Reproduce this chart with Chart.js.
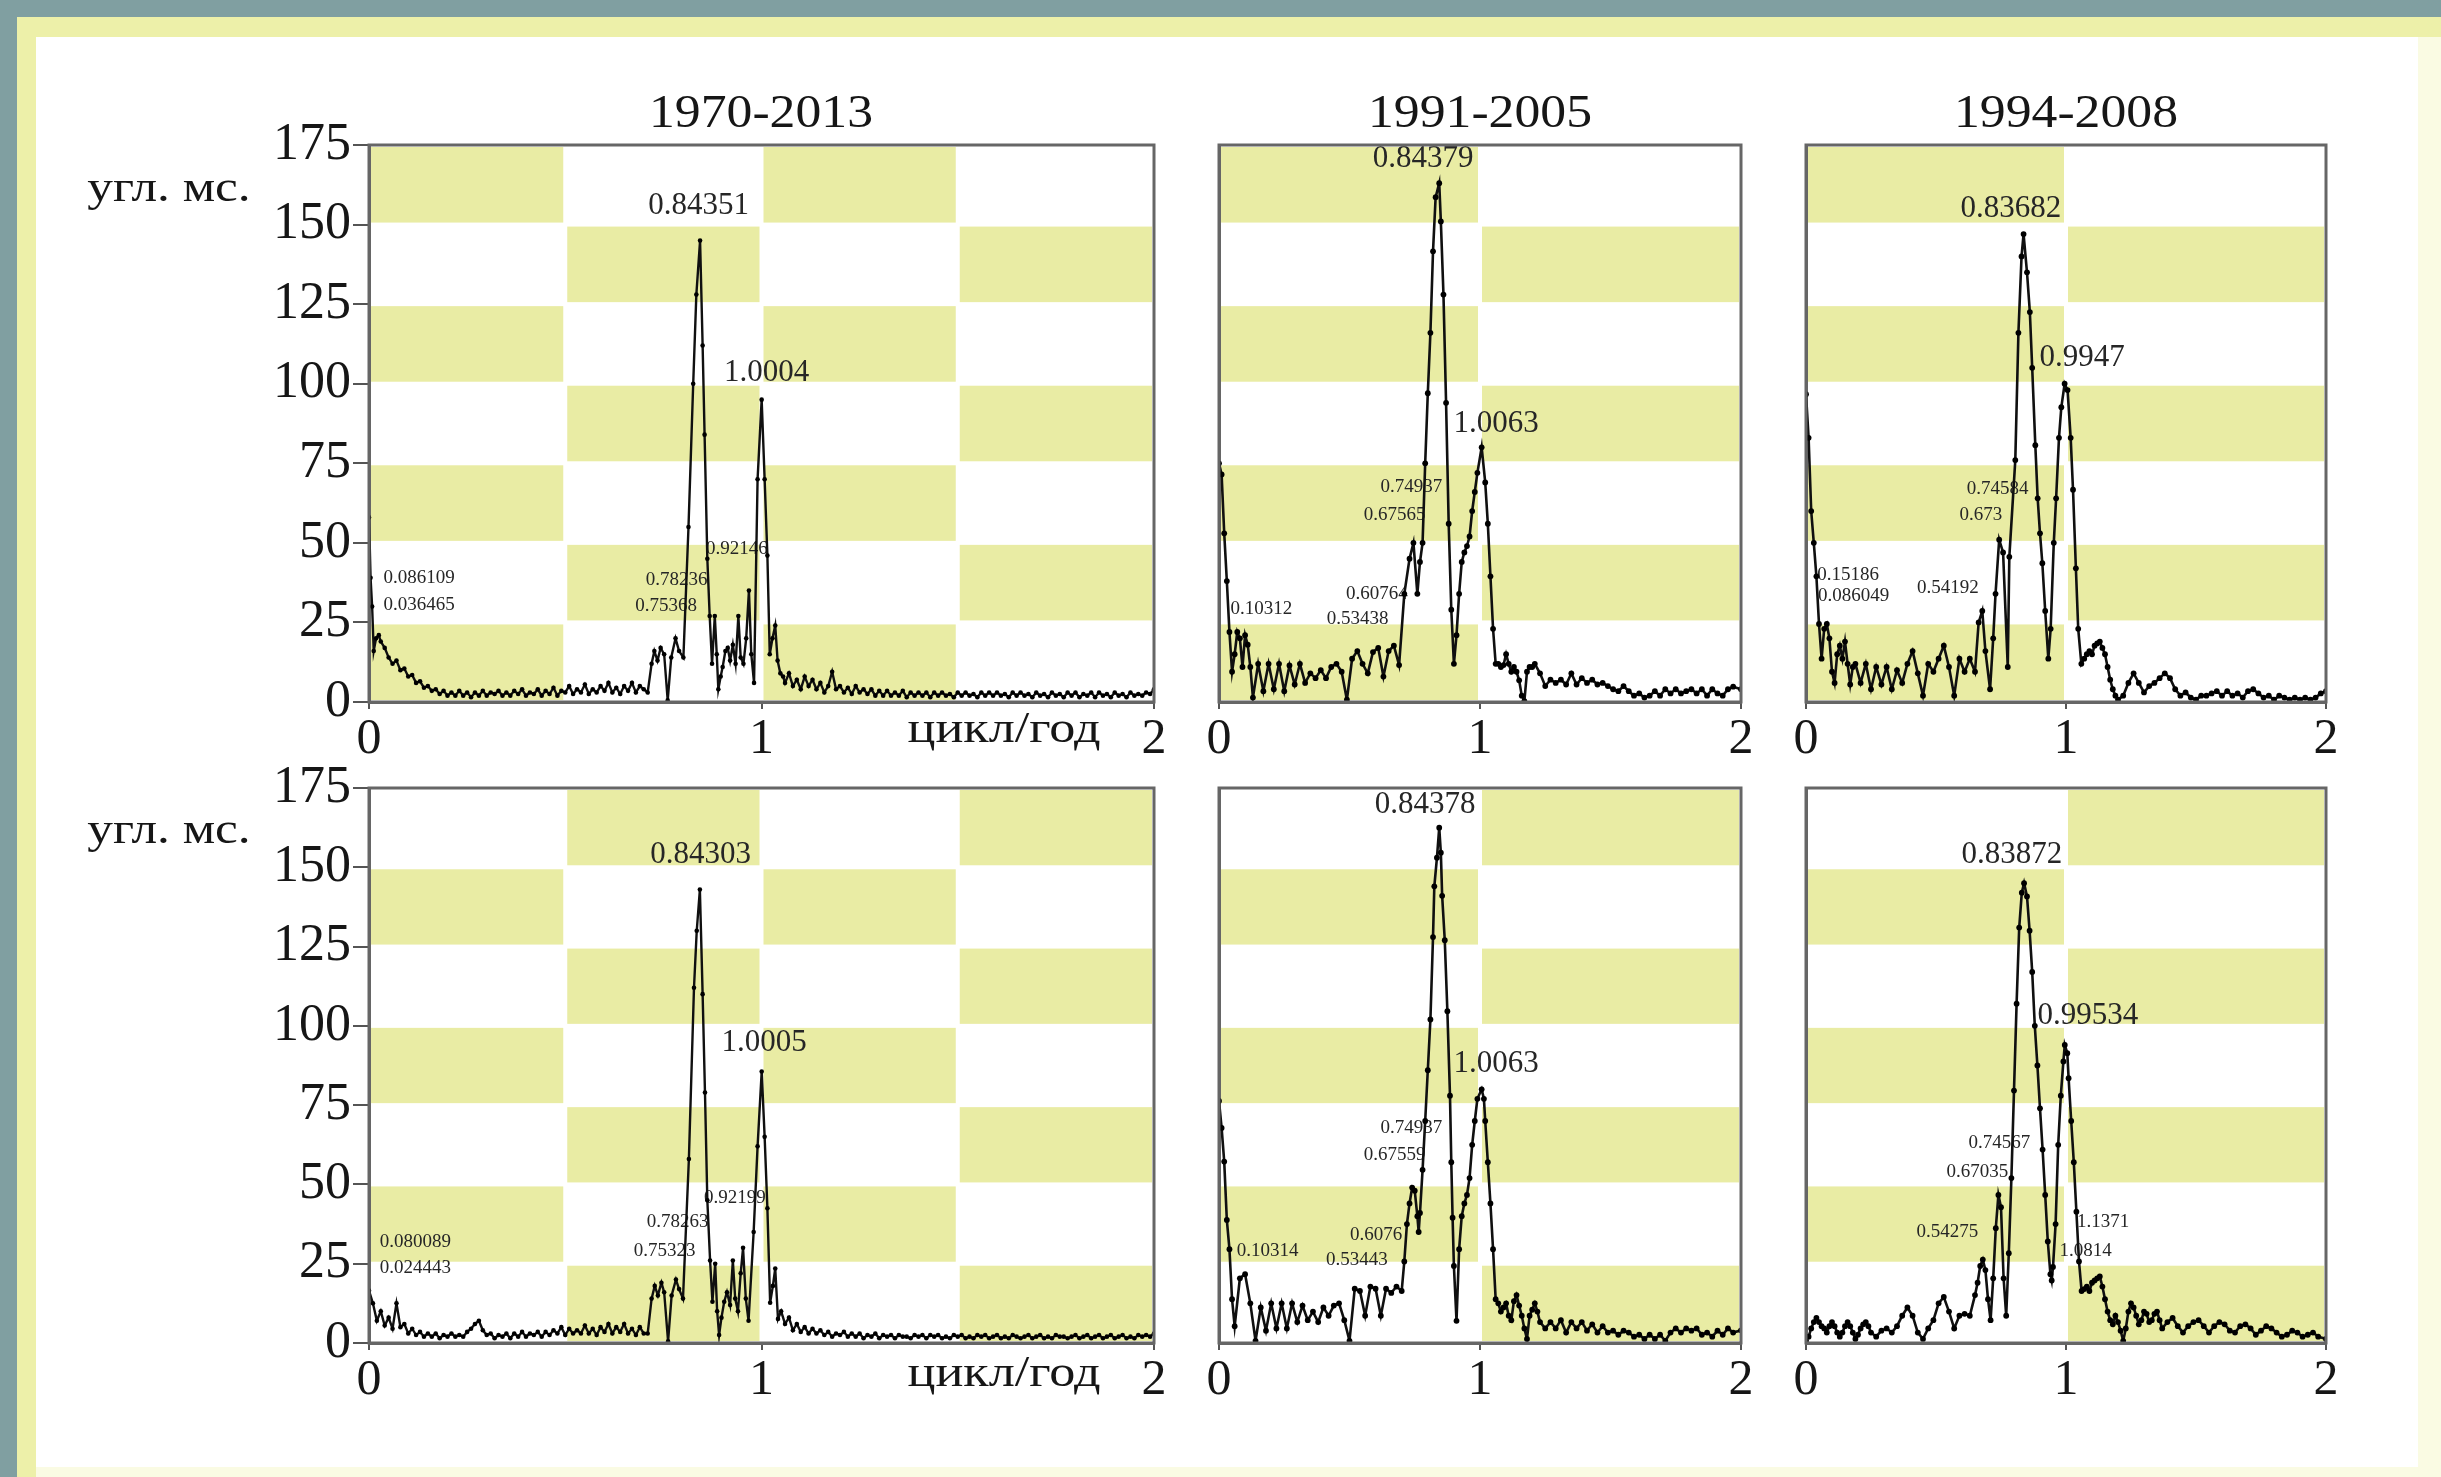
<!DOCTYPE html>
<html><head><meta charset="utf-8">
<script src="https://cdn.jsdelivr.net/npm/chart.js@4.4.1/dist/chart.umd.min.js"></script>
<style>
html,body{margin:0;padding:0}
body{width:2441px;height:1477px;background:#809fa1;overflow:hidden;position:relative;font-family:"Liberation Serif","Times New Roman",serif}
#frame{position:absolute;left:17px;top:17px;right:0;bottom:0;background:#edf0a9}
#panel{position:absolute;left:36px;top:37px;right:0;bottom:0;background:#fff}
#rs{position:absolute;left:2418px;top:37px;right:0;bottom:0;background:#fafbe3}
#bs{position:absolute;left:36px;top:1467px;right:0;bottom:0;background:#fafbe3}
.t{position:absolute;color:#161616;white-space:nowrap;line-height:1}
canvas{position:absolute}
</style></head>
<body>
<div id="frame"></div><div id="panel"></div><div id="rs"></div><div id="bs"></div>
<script>
// ---------- data ----------
const periodTitles = ["1970-2013","1991-2005","1994-2008"];
const yUnit = "угл. мс.";
const xUnit = "цикл/год";
const yTickValues = [0,25,50,75,100,125,150,175];
const xTickLabels = ["0","1","2"];

const freqTL = [0,0.004,0.008,0.012,0.018,0.025,0.03,0.04,0.05,0.06,0.07,0.08,0.09,0.10,0.11,0.12,0.13,0.14,0.15,0.16,0.17,0.18,0.19,
0.20,0.21,0.22,0.23,0.24,0.25,0.26,0.27,0.28,0.29,
0.30,0.31,0.32,0.33,0.34,0.35,0.36,0.37,0.38,0.39,
0.40,0.41,0.42,0.43,0.44,0.45,0.46,0.47,0.48,0.49,
0.50,0.51,0.52,0.53,0.54,0.55,0.56,0.57,0.58,0.59,
0.60,0.61,0.62,0.63,0.64,0.65,0.66,0.67,0.68,0.69,
0.70,
0.71,0.72,0.727,0.735,0.743,0.752,0.761,0.77,0.781,0.79,0.801,
0.814,0.826,0.834,0.8435,0.85,0.855,0.862,0.868,0.874,0.881,
0.886,0.890,0.896,0.901,0.908,0.914,0.92,0.927,0.934,0.941,
0.947,0.954,0.961,0.968,0.974,0.981,0.99,1.0004,1.008,1.015,
1.021,1.028,1.035,1.041,1.048,1.055,1.06,1.07,1.08,1.09,
1.10,1.11,1.12,1.13,1.14,1.15,1.16,1.17,1.18,1.19,
1.20,1.21,1.22,1.23,1.24,1.25,1.26,1.27,1.28,1.29,
1.30,1.31,1.32,1.33,1.34,1.35,1.36,1.37,1.38,1.39,
1.40,1.41,1.42,1.43,1.44,1.45,1.46,1.47,1.48,1.49,
1.50,1.51,1.52,1.53,1.54,1.55,1.56,1.57,1.58,1.59,
1.60,1.61,1.62,1.63,1.64,1.65,1.66,1.67,1.68,1.69,
1.70,1.71,1.72,1.73,1.74,1.75,1.76,1.77,1.78,1.79,
1.80,1.81,1.82,1.83,1.84,1.85,1.86,1.87,1.88,1.89,
1.90,1.91,1.92,1.93,1.94,1.95,1.96,1.97,1.98,1.99,
2.00];
const ampTL = [58,39,30,16,20,21,19,17,14,12,13,10,10.5,8,8.5,6,6.5,4.5,5,3.5,4,2.5,3.5,
2,3,2,3.5,2,3,1.5,3,2,3.5,
2,3,2.5,3.5,2,3,2,3.5,2.5,4,
2,3,2.5,4,2,3.5,2.5,4.5,2,3.5,
3,5,2.5,4,3,5.5,2.5,4,3,5,
3.5,6,3,4.5,2.5,5,3.5,6,3,5,
4,
3,12,16,13,17,15,0.5,14,20,16,14,
55,100,128,145,112,84,45,27,12,27,
15,4,8,11,16,17,13,18,12,27,
14,12,20,35,15,6,70,95,70,46,
15,20,24,13,9,8,6,9,5,7,
4,8,5,7,4,6,3,5,9.5,4,
5,3,4.5,2.5,5,3,4,2.5,4,2,
3.5,2,3.5,2,3,2,3.5,1.5,3,2,
3,2,3,1.5,3,2,3,2,2.5,1.5,
3,2,3,2,2.5,1.5,3,2,3,2,
3,2,2.5,1.5,3,2,3,2,2.5,1.5,
3,2,2.5,1.5,3,2,2.5,1.5,3,2,
3,1.5,2.5,2,3,1.5,3,2,2.5,1.5,
3,2,2.5,1.5,3,2,2.5,2,3,2.5,
4];

const freqTM = [0,0.01,0.02,0.03,0.04,0.05,0.06,0.07,0.08,0.09,
0.10,0.11,0.12,0.13,0.15,0.17,0.19,0.21,0.23,0.25,
0.27,0.29,0.31,0.33,0.35,0.37,0.39,0.41,0.43,0.45,
0.47,0.49,0.51,0.53,0.55,0.57,0.59,0.61,0.63,0.65,
0.67,0.69,0.71,0.73,0.745,0.76,0.77,0.78,0.79,0.80,
0.81,0.82,0.83,0.8438,0.85,0.86,0.87,0.88,0.89,0.90,
0.91,0.92,0.93,0.94,0.95,0.96,0.97,0.98,0.99,1.0063,
1.02,1.03,1.04,1.05,1.06,1.07,1.08,1.09,1.10,1.11,
1.12,1.13,1.14,1.15,1.16,1.17,1.18,1.19,1.20,1.21,
1.23,1.25,1.27,1.29,1.31,1.33,1.35,1.37,1.39,1.41,
1.43,1.45,1.47,1.49,1.51,1.53,1.55,1.57,1.59,1.61,
1.63,1.65,1.67,1.69,1.71,1.73,1.75,1.77,1.79,1.81,
1.83,1.85,1.87,1.89,1.91,1.93,1.95,1.97,2.0];
const ampTM = [75,71.5,53,38,22,9.5,15,22,20,11,
21,18,11,1.4,12,3.4,12,4,12,3.4,
11.5,5.5,12,6,9,7.5,10,7.5,11,12,
9.5,0.7,13.6,16,12,9,15.7,17,8,16,
17.7,11.6,34,45,50,34,44,50,75,97,
116,141.6,158.6,163,151,128,94,56,29,12,
21,34,44,47,49,52,60,66,72,80,
69,56,39.5,23,12,12,11,11.6,15,12,
9.5,11,9.5,6.8,2,0.3,9.5,11,11,12,
9,5,7,6,7,5.5,9,5.5,7.5,6,
7,5.5,6,5,4,3.4,5,3.4,2,2.7,
1.4,2,3.4,2,4,2.7,4,2.7,3.4,4,
2.7,4,2,4,2.7,2,4,4.8,4];

const freqTR = [0,0.01,0.02,0.03,0.04,0.05,0.06,0.07,0.08,0.09,
0.10,0.11,0.12,0.13,0.14,0.15,0.16,0.17,0.18,0.19,
0.21,0.23,0.25,0.27,0.29,0.31,0.33,0.35,0.37,0.39,
0.41,0.43,0.45,0.47,0.49,0.51,0.53,0.55,0.57,0.59,
0.61,0.63,0.65,0.664,0.678,0.69,0.708,0.72,0.729,0.743,
0.758,0.776,0.782,0.805,0.817,0.829,0.8368,0.85,0.861,0.87,
0.882,0.891,0.90,0.909,0.92,0.932,0.941,0.953,0.962,0.973,
0.982,0.9947,1.006,1.018,1.027,1.038,1.047,1.059,1.07,1.08,
1.09,1.10,1.11,1.12,1.13,1.14,1.15,1.16,1.17,1.18,
1.19,1.20,1.22,1.24,1.26,1.28,1.30,1.32,1.34,1.36,
1.38,1.40,1.42,1.44,1.46,1.48,1.50,1.52,1.54,1.56,
1.58,1.60,1.62,1.64,1.66,1.68,1.70,1.72,1.74,1.76,
1.78,1.80,1.82,1.84,1.86,1.88,1.90,1.92,1.94,1.96,
1.98,2.0];
const ampTR = [96.7,83,60,50,39.5,24.5,13.6,23,24.5,20,
9.5,6,15,17.7,13.6,19,12,5.5,11,12,
6,12,4,11,5.5,11,4,10,6,12,
16,9,2,12,9.5,13.6,17.7,11,2,13.6,
9.5,13.6,9.5,25,28.6,16,4,20,34,51,
47,11,45.6,76,116,140,147,135,122.5,105,
80.7,64,53,43.6,28.6,13.6,23,50,64,83,
92.6,100,98,83,66.7,42,23,12,13.6,15,
16,15,17.7,18.4,19,17,15,11,7,4,
2,0.7,2,6,9,6,3,5,6,7.5,
9,7.5,4,2,3,1.4,0.7,2,2,2.7,
3.4,2,3.4,2,2.7,1.4,3.4,4,2.7,1.4,
2,0.7,2,1.4,0.7,1.4,0.7,1.4,0.7,1.4,
2.7,3.4];

const freqBL = [0,0.01,0.02,0.03,0.04,0.05,0.06,0.07,0.08,0.09,0.10,0.11,0.12,0.13,
0.14,0.15,0.16,0.17,0.18,0.19,0.20,0.21,0.22,0.23,
0.24,0.25,0.26,0.27,0.28,0.29,0.30,0.31,0.32,0.33,
0.34,0.35,0.36,0.37,0.38,0.39,0.40,0.41,0.42,0.43,
0.44,0.45,0.46,0.47,0.48,0.49,0.50,0.51,0.52,0.53,
0.54,0.55,0.56,0.57,0.58,0.59,0.60,0.61,0.62,0.63,
0.64,0.65,0.66,0.67,0.68,0.69,0.70,
0.71,0.72,0.728,0.736,0.745,0.752,0.762,
0.771,0.782,0.79,0.80,0.815,0.828,0.835,0.843,0.85,0.856,
0.862,0.869,0.875,0.882,0.887,0.892,0.898,0.905,0.912,0.92,
0.927,0.933,0.94,0.947,0.953,0.96,0.967,0.98,0.99,1.0005,
1.008,1.015,1.022,1.029,1.035,1.042,1.05,1.06,1.07,1.08,
1.09,1.10,1.11,1.12,1.13,1.14,1.15,1.16,
1.17,1.18,1.19,1.20,1.21,1.22,1.23,1.24,1.25,1.26,
1.27,1.28,1.29,1.30,1.31,1.32,1.33,1.34,1.35,1.36,
1.37,1.38,1.39,1.40,1.41,1.42,1.43,1.44,1.45,1.46,
1.47,1.48,1.49,1.50,1.51,1.52,1.53,1.54,1.55,1.56,
1.57,1.58,1.59,1.60,1.61,1.62,1.63,1.64,1.65,1.66,
1.67,1.68,1.69,1.70,1.71,1.72,1.73,1.74,1.75,1.76,
1.77,1.78,1.79,1.80,1.81,1.82,1.83,1.84,1.85,1.86,
1.87,1.88,1.89,1.90,1.91,1.92,1.93,1.94,1.95,1.96,
1.97,1.98,1.99,2.00];
const ampBL = [16.5,12.5,7,10,5.5,8,4.5,12.5,5,6,3,4.5,2.5,3.5,
2,3,2,3,1.5,2.5,2,3,2,2.5,
2,3.5,4.5,6,7,4,2.5,3,1.5,2.5,
2,3,1.5,3,2,3.5,2,3,2.5,3.5,
2,3.5,2.5,4,3,5,2.5,4.5,3,4,
3,5.5,3,4.5,2.5,5,3.5,6,3,5,
3.5,6,3,4.5,2.5,5,3,
3,14,18,15,19,16,0.5,
15,20,17,14,58,112,130,143,110,79,
45,26,13,25,10,2.5,8,13,16,12,
26,14,10,22,30,14,7,35,62,85.6,
65,42.5,12.7,18,23.5,7.6,10,6,8,4,
6,3.5,5,3,4.5,3,4,2.5,
3.5,2,3,2.5,3.5,2,3,2,3,1.5,
2.5,2,3,1.5,2.5,2,2.5,1.5,2.5,2,
2,1.5,2.5,2,2.5,1.5,2.5,2,2.5,1.5,
2,1.5,2.5,2,2.5,1.5,2,1.5,2.5,2,
2.5,1.5,2,2.5,1.5,2,1.5,2.5,2,1.5,
2,2.5,1.5,2,2.5,1.5,2,1.5,2.5,2,
2,1.5,2,2.5,1.5,2,2.5,1.5,2,2.5,
1.5,2,2.5,1.5,2,2.5,1.5,2,1.5,2.5,
2,2.5,2,3];

const freqBM = [0,0.01,0.02,0.03,0.04,0.05,0.06,0.08,0.10,0.12,
0.14,0.16,0.18,0.20,0.22,0.24,0.26,0.28,0.30,0.32,
0.34,0.36,0.38,0.40,0.42,0.44,0.46,0.48,0.50,0.52,
0.54,0.56,0.58,0.60,0.62,0.64,0.66,0.68,0.70,0.71,
0.72,0.73,0.74,0.75,0.76,0.765,0.77,0.78,0.79,0.80,
0.81,0.82,0.825,0.835,0.8438,0.85,0.855,0.865,0.875,0.885,
0.89,0.895,0.90,0.91,0.92,0.93,0.94,0.95,0.96,0.97,
0.98,0.99,1.0063,1.015,1.02,1.03,1.04,1.05,1.06,1.07,
1.08,1.09,1.10,1.11,1.12,1.13,1.14,1.15,1.16,1.17,
1.18,1.19,1.20,1.21,1.22,1.23,1.25,1.27,1.29,1.31,
1.33,1.35,1.37,1.39,1.41,1.43,1.45,1.47,1.49,1.51,
1.53,1.55,1.57,1.59,1.61,1.63,1.65,1.67,1.69,1.71,
1.73,1.75,1.77,1.79,1.81,1.83,1.85,1.87,1.89,1.91,
1.93,1.95,1.97,2.0];
const ampBM = [76.3,67.8,57.2,38.8,29.6,13.8,5.3,20.4,21.7,12.5,
0.7,11.2,3.9,12.5,4.6,12.5,4.6,12.5,6.6,11.8,
7.2,9.9,6.6,11.2,8.6,11.8,12.5,7.2,0.7,17.1,
16.4,8.6,17.8,17.1,8.6,17.1,15.8,17.8,16.4,25.7,
37.5,44,49,48,40,35,41,54.6,70,86,
102,128,144,153,162.5,154.6,141,127,104.6,78,
57,39.5,24.3,7,29.6,40,44,46.7,52,62.5,
70,77,80,77,70,57,44,29.6,13.8,12.5,
9.9,11.2,12.5,8.6,7.2,13.2,15.1,11.8,8.6,4.6,
1.3,8.6,10.5,12.5,9.9,6.6,4.6,6.6,4.6,7.2,
3.3,6.6,4.6,6.6,3.9,5.9,3.3,5.3,3.3,3.9,
2.6,3.9,3.3,2,2.6,1.3,2.6,1.3,2.6,0.7,
3.3,4.6,3.3,4.6,3.9,4.6,2.6,3.3,2,3.9,
2.6,4.6,3.3,4];

const freqBR = [0,0.01,0.02,0.03,0.04,0.05,0.06,0.07,0.08,0.09,
0.10,0.11,0.12,0.13,0.14,0.15,0.16,0.17,0.18,0.19,
0.20,0.21,0.22,0.23,0.24,0.25,0.27,0.29,0.31,0.33,
0.35,0.37,0.39,0.41,0.43,0.45,0.47,0.49,0.51,0.53,
0.55,0.57,0.59,0.61,0.63,0.65,0.66,0.67,0.68,0.69,
0.70,0.71,0.72,0.73,0.74,0.75,0.76,0.77,0.78,0.79,
0.80,0.81,0.82,0.83,0.8387,0.85,0.86,0.87,0.88,0.89,
0.90,0.91,0.92,0.93,0.94,0.945,0.95,0.96,0.97,0.98,
0.99,0.9953,1.005,1.01,1.02,1.03,1.04,1.05,1.06,1.07,
1.08,1.09,1.10,1.11,1.12,1.13,1.14,1.15,1.16,1.17,
1.18,1.19,1.20,1.21,1.22,1.23,1.24,1.25,1.26,1.27,
1.28,1.29,1.30,1.31,1.32,1.33,1.34,1.35,1.36,1.37,
1.39,1.41,1.43,1.45,1.47,1.49,1.51,1.53,1.55,1.57,
1.59,1.61,1.63,1.65,1.67,1.69,1.71,1.73,1.75,1.77,
1.79,1.81,1.83,1.85,1.87,1.89,1.91,1.93,1.95,1.97,
2.0];
const ampBR = [0.7,2,4.6,6.6,7.9,6.6,5.3,4.6,3.3,5.3,
6.6,5.3,3.3,2,3.3,5.3,6.6,5.3,3.3,1.3,
2.6,4.6,5.9,6.6,5.3,3.3,2,3.9,4.6,3.3,
5.3,8.6,11.2,8.6,3.3,1.3,4.6,7.2,12.5,14.5,
9.9,4.6,8.6,9.2,8.6,15.1,19,24.3,26.3,23,
13.8,7.2,20.4,36.2,46.7,42.8,20.4,8.6,28.3,52,
79.6,107,131,142,145,140.8,130,117,100,87.5,
74,61,46.7,32,21.7,19.7,24,37.5,62.5,78,
88.8,94,91.4,83.5,70,57,41.4,25.7,16.4,17,
17.8,16.4,19,19.7,20.4,21,17.8,13.8,9.9,7.2,
5.9,8.6,6.6,3.9,0.7,4.6,9.9,12.5,11.2,8.6,
5.9,7.2,9.9,9.2,6.6,7.2,9.2,9.9,7.2,4.6,
6.6,7.9,5.3,3.3,5.3,6.6,7.2,5.3,3.3,5.3,
6.6,5.9,3.9,3.3,5.3,5.9,4.6,2.6,3.9,5.3,
4.6,3.3,2,2.6,3.9,3.3,2,2.6,3.3,2,
1.3];

// peak annotations: [text, frequency, amplitude, large?]
const notesTL = [["0.84351",0.84,156,1],["1.0004",1.013,103.5,1],["0.086109",0.128,39,0],["0.036465",0.128,30.6,0],["0.92146",0.937,48,0],["0.78236",0.784,38.3,0],["0.75368",0.757,30,0]];
const notesTM = [["0.84379",0.782,170.5,1],["1.0063",1.062,87.4,1],["0.74937",0.737,67.4,0],["0.67565",0.673,58.8,0],["0.60764",0.605,34,0],["0.53438",0.531,26,0],["0.10312",0.162,29.3,0]];
const notesTR = [["0.83682",0.788,155,1],["0.9947",1.062,108,1],["0.74584",0.737,67,0],["0.673",0.673,58.8,0],["0.54192",0.546,35.7,0],["0.15186",0.162,40,0],["0.086049",0.183,33.4,0]];
const notesBL = [["0.84303",0.845,154,1],["1.0005",1.007,94.5,1],["0.080089",0.118,31.7,0],["0.024443",0.118,23.5,0],["0.92199",0.932,45.6,0],["0.78263",0.786,38,0],["0.75323",0.753,29,0]];
const notesBM = [["0.84378",0.79,169.7,1],["1.0063",1.062,88,1],["0.74937",0.737,67.8,0],["0.67559",0.673,59.2,0],["0.6076",0.602,34.2,0],["0.53443",0.528,26.3,0],["0.10314",0.186,29,0]];
const notesBR = [["0.83872",0.792,154,1],["0.99534",1.084,103,1],["0.74567",0.744,63,0],["0.67035",0.659,54,0],["0.54275",0.544,34.9,0],["1.1371",1.143,38,0],["1.0814",1.075,29,0]];

// ---------- layout ----------
const FONT = '"Liberation Serif","Times New Roman",serif';
Chart.defaults.font.family = FONT;
Chart.defaults.color = '#161616';
const PAD = {l:150, t:34, r:44, b:80};
const panels = [
  {freq:freqTL, amp:ampTL, notes:notesTL, box:[369,145,785,557], colW:0.5, phase:0, yAxis:true,  dot:2.3, lw:2.4},
  {freq:freqTM, amp:ampTM, notes:notesTM, box:[1219,145,522,557], colW:1, phase:0, yAxis:false, dot:2.9, lw:2.6},
  {freq:freqTR, amp:ampTR, notes:notesTR, box:[1806,145,520,557], colW:1, phase:0, yAxis:false, dot:2.9, lw:2.6},
  {freq:freqBL, amp:ampBL, notes:notesBL, box:[369,788,785,555], colW:0.5, phase:1, yAxis:true,  dot:2.3, lw:2.4},
  {freq:freqBM, amp:ampBM, notes:notesBM, box:[1219,788,522,555], colW:1, phase:1, yAxis:false, dot:2.9, lw:2.6},
  {freq:freqBR, amp:ampBR, notes:notesBR, box:[1806,788,520,555], colW:1, phase:1, yAxis:false, dot:2.9, lw:2.6}
];

const checker = {
  id:'checker',
  beforeDraw(chart, args, o){
    const {ctx, scales:{x,y}} = chart;
    ctx.save(); ctx.fillStyle = '#e9eca4';
    const nRows = (yTickValues.length - 1);
    for (let r=0; r<nRows; r++){
      for (let c=0; c*o.colW < 2 - 1e-9; c++){
        if ((r + c + o.phase) % 2) continue;
        const x0 = x.getPixelForValue(c*o.colW), x1 = x.getPixelForValue((c+1)*o.colW);
        const y0 = y.getPixelForValue(yTickValues[r+1]), y1 = y.getPixelForValue(yTickValues[r]);
        ctx.fillRect(x0+2, y0+2, x1-x0-4, y1-y0-4);
      }
    }
    ctx.restore();
  }
};
const notes = {
  id:'notes',
  beforeDatasetsDraw(chart, args, o){
    const {ctx, scales:{x,y}} = chart;
    ctx.save();
    ctx.fillStyle = '#262626'; ctx.textAlign = 'center'; ctx.textBaseline = 'middle';
    for (const [t, fx, fy, big] of o.list){
      ctx.font = (big ? '31px ' : '19px ') + FONT;
      ctx.fillText(t, x.getPixelForValue(fx), y.getPixelForValue(fy));
    }
    ctx.restore();
  }
};
const frame = {
  id:'frame',
  afterDatasetsDraw(chart){
    const {ctx, chartArea:a} = chart;
    ctx.save(); ctx.strokeStyle = '#666'; ctx.lineWidth = 3;
    ctx.strokeRect(a.left, a.top, a.right-a.left, a.bottom-a.top);
    ctx.restore();
  }
};

panels.forEach(p => {
  if (p.freq.length !== p.amp.length) throw new Error('length mismatch ' + p.freq.length + ' ' + p.amp.length);
  const [bx, by, bw, bh] = p.box;
  const cv = document.createElement('canvas');
  cv.width = bw + PAD.l + PAD.r; cv.height = bh + PAD.t + PAD.b;
  cv.style.left = (bx - PAD.l) + 'px'; cv.style.top = (by - PAD.t) + 'px';
  cv.style.width = cv.width + 'px'; cv.style.height = cv.height + 'px';
  document.body.appendChild(cv);
  new Chart(cv, {
    type:'line',
    data:{datasets:[{
      data: p.freq.map((f,i)=>({x:f, y:p.amp[i]})),
      borderColor:'#101010', borderWidth:p.lw, tension:0,
      pointRadius:p.dot, pointBackgroundColor:'#000', pointBorderWidth:0, fill:false
    }]},
    options:{
      responsive:false, devicePixelRatio:1, animation:false,
      layout:{padding:{top:PAD.t, right:PAD.r, left:0, bottom:0}},
      plugins:{legend:{display:false}, tooltip:{enabled:false},
        checker:{colW:p.colW, phase:p.phase}, notes:{list:p.notes}},
      scales:{
        x:{type:'linear', min:0, max:2,
           afterFit(s){ s.height = PAD.b; },
           ticks:{stepSize:1, autoSkip:false, maxRotation:0, padding:1,
                  font:{size:50}, color:'#161616',
                  callback:(v)=> xTickLabels[v]},
           grid:{drawOnChartArea:false, drawTicks:true, tickLength:7, color:'#555', lineWidth:2},
           border:{display:true, color:'#666', width:3}},
        y:{type:'linear', min:0, max:175,
           afterFit(s){ s.width = PAD.l; },
           afterBuildTicks(s){ s.ticks = yTickValues.map(v=>({value:v})); },
           ticks:{display:p.yAxis, padding:2, font:{size:52}, color:'#161616'},
           grid:{display:p.yAxis, drawOnChartArea:false, drawTicks:true, tickLength:16, color:'#555', lineWidth:2},
           border:{display:true, color:'#666', width:3}}
      }
    },
    plugins:[checker, notes, frame]
  });
});

// ---------- text ----------
function addText(txt, cx, top, size, sx){
  const d = document.createElement('div');
  d.className = 't'; d.textContent = txt;
  d.style.left = cx + 'px'; d.style.top = top + 'px'; d.style.fontSize = size + 'px';
  d.style.transform = 'translateX(-50%) scaleX(' + sx + ')';
  document.body.appendChild(d);
}
[761, 1480, 2066].forEach((cx,i)=> addText(periodTitles[i], cx, 88, 47, 1.1));
addText(yUnit, 169, 164, 45, 1.14);
addText(yUnit, 169, 806, 45, 1.14);
addText(xUnit, 1004, 705, 45, 1.16);
addText(xUnit, 1004, 1349, 45, 1.16);
</script>
</body></html>
